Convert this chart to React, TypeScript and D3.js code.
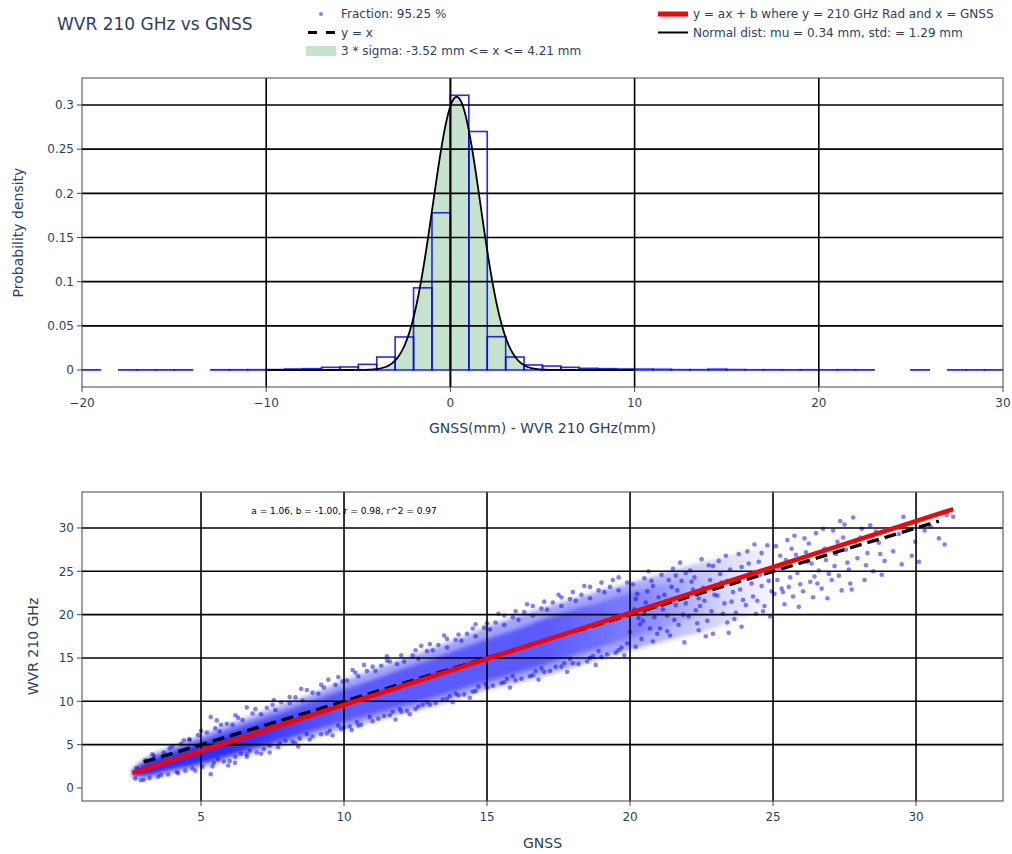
import React from "react";
import * as d3 from "d3";

// ---------- histogram of GNSS - WVR differences (1 mm bins) ----------
const histBinLeft = [
  -20, -19, -18, -17, -16, -15, -14, -13, -12, -11, -10, -9, -8, -7, -6, -5, -4, -3, -2, -1,
  0, 1, 2, 3, 4, 5, 6, 7, 8, 9, 10, 11, 12, 13, 14, 15, 16, 17, 18, 19,
  20, 21, 22, 23, 24, 25, 26, 27, 28, 29,
];
const histDensity = [
  0.0002, 0, 0.0002, 0.0002, 0.0002, 0.0002, 0, 0.0003, 0.0003, 0.0004, 0.0005, 0.0011, 0.0015, 0.003, 0.0034, 0.0064, 0.0147, 0.0374, 0.093, 0.178,
  0.311, 0.27, 0.0377, 0.0147, 0.0057, 0.0045, 0.003, 0.0019, 0.0015, 0.0011, 0.001, 0.0008, 0.0004, 0.0004, 0.0009, 0.0005, 0.0003, 0.0003, 0.0002, 0.0003,
  0.0002, 0.0003, 0.0002, 0, 0, 0.0002, 0, 0.0002, 0.0002, 0.0002,
];
const normalMu = 0.34;
const normalStd = 1.29;
const normalSpan = [-10, 10];
const sigmaLow = -3.52;
const sigmaHigh = 4.21;

// ---------- regression of WVR 210 GHz on GNSS ----------
const fitA = 1.06;
const fitB = -1.0;
const fitR = 0.98;
const fitR2 = 0.97;
const fractionPct = 95.25;
const fitSpan = [2.6, 31.3];
const identitySpan = [3.0, 30.8];

// density of the point cloud: outer envelope, core and innermost core
const bandGnss = [2.6, 3, 4, 5, 6, 7, 8, 9, 10, 11, 12, 13, 14, 15, 16, 17, 18, 19, 20, 21, 22, 23, 24, 25];
const envLow = [1.2, 1.1, 1.8, 2.4, 3.3, 4.2, 5.1, 6.0, 6.8, 7.7, 8.6, 9.4, 10.4, 11.4, 12.2, 13.0, 14.0, 15.0, 15.9, 16.8, 17.6, 18.5, 19.8, 21.2];
const envHigh = [2.2, 3.3, 4.8, 6.1, 7.4, 8.6, 9.8, 11.0, 12.4, 13.6, 14.8, 16.0, 17.2, 18.6, 19.8, 20.8, 21.8, 22.8, 23.6, 24.6, 25.6, 26.4, 27.3, 28.1];
const coreLow = [1.3, 1.4, 2.2, 2.9, 3.8, 4.8, 5.7, 6.7, 7.6, 8.5, 9.4, 10.3, 11.3, 12.3, 13.2, 14.2, 15.3, 16.3, 17.3, 18.3, 19.3, 20.3, 21.5, 22.5];
const coreHigh = [2.1, 3.0, 4.4, 5.6, 6.8, 7.9, 9.0, 10.2, 11.4, 12.5, 13.7, 14.8, 16.0, 17.2, 18.3, 19.5, 20.6, 21.5, 22.5, 23.4, 24.2, 25.0, 25.8, 26.5];
const innerGnss = [2.6, 3, 4, 5, 6, 7, 8, 9, 10];
const innerLow = [1.3, 1.4, 2.1, 2.8, 3.7, 4.7, 5.6, 6.6, 7.6];
const innerHigh = [2.0, 2.8, 3.9, 5.0, 6.1, 7.2, 8.3, 9.3, 10.4];

// individual samples around the edges of the cloud
const edgePoints: [number, number][] = [
  [2.7, 1.1], [2.75, 2.3], [2.9, 0.9], [3.05, 3.2], [3.2, 1.15], [3.35, 3.7], [3.5, 1.3], [3.7, 4.1], [3.85, 1.55], [4.0, 4.8],
  [4.15, 1.85], [4.3, 5.1], [4.45, 2.0], [4.6, 5.6], [4.7, 2.25], [4.9, 6.1], [5.05, 2.45], [5.34, 8.2], [5.34, 1.6], [5.2, 6.4],
  [5.5, 6.9], [5.65, 6.55], [5.9, 7.4], [5.45, 2.9], [5.6, 3.3], [5.8, 3.05], [5.55, 7.8], [5.95, 2.6], [4.59, 5.6],
  [6.1, 7.3], [6.3, 8.1], [6.45, 7.85], [6.8, 8.6], [6.2, 3.6], [6.4, 3.95], [6.6, 3.6], [6.19, 2.9], [6.7, 4.3], [6.95, 4.1], [6.6, 9.3],
  [7.1, 8.5], [7.3, 9.25], [7.6, 9.0], [7.8, 9.9], [7.2, 4.5], [7.4, 4.9], [7.76, 5.2], [7.95, 5.45], [7.55, 10.15], [7.4, 4.1],
  [8.1, 9.8], [8.3, 10.45], [8.55, 10.1], [8.9, 11.0], [8.2, 5.35], [8.45, 5.7], [8.7, 6.2], [8.9, 5.95], [8.5, 11.45], [8.4, 4.8],
  [9.1, 10.9], [9.3, 11.6], [9.45, 12.5], [9.7, 11.9], [9.95, 12.3], [9.2, 6.2], [9.5, 6.6], [9.8, 7.2], [9.6, 6.05], [9.9, 6.8],
  [10.1, 12.4], [10.3, 13.6], [10.5, 12.9], [10.8, 13.5], [10.27, 6.7], [10.45, 7.6], [10.6, 7.3], [10.9, 8.2], [10.7, 14.2], [10.2, 7.1],
  [11.1, 13.5], [11.3, 14.1], [11.6, 14.6], [11.85, 14.3], [11.2, 8.0], [11.4, 8.3], [11.7, 8.8], [11.95, 9.1], [11.5, 15.2], [11.8, 7.9],
  [12.1, 14.6], [12.4, 15.3], [12.6, 14.9], [12.9, 15.8], [12.2, 8.9], [12.5, 9.1], [12.75, 9.6], [12.9, 9.9], [12.7, 16.4], [12.3, 8.5],
  [13.1, 15.9], [13.3, 16.5], [13.6, 16.2], [13.9, 17.1], [13.2, 9.8], [13.45, 10.2], [13.7, 10.6], [13.9, 10.9], [13.5, 17.6], [13.8, 9.9],
  [14.1, 17.0], [14.3, 17.8], [14.6, 17.5], [14.9, 18.5], [14.2, 10.8], [14.5, 11.1], [14.7, 11.7], [14.95, 12.0], [14.6, 18.9], [14.4, 10.4],
  [15.1, 18.3], [15.3, 19.1], [15.6, 18.8], [15.9, 19.7], [15.2, 11.8], [15.5, 12.1], [15.7, 12.6], [15.9, 12.9], [15.4, 20.1], [15.8, 11.6],
  [16.1, 19.4], [16.3, 20.3], [16.6, 19.9], [16.9, 20.7], [16.2, 12.6], [16.5, 12.9], [16.7, 13.5], [16.9, 13.8], [16.4, 21.2], [16.8, 12.5],
  [17.1, 20.6], [17.3, 21.4], [17.6, 21.0], [17.9, 21.8], [17.2, 13.5], [17.4, 14.0], [17.7, 14.4], [17.9, 14.9], [17.5, 22.3], [17.8, 13.4],
  [18.1, 21.6], [18.3, 22.3], [18.6, 21.9], [18.9, 22.8], [18.2, 14.3], [18.5, 14.6], [18.7, 15.2], [18.9, 15.8], [18.4, 23.3], [18.8, 14.2],
  [19.1, 22.6], [19.3, 23.2], [19.6, 22.8], [19.9, 23.7], [19.2, 15.4], [19.5, 15.6], [19.7, 16.2], [19.9, 16.7], [19.4, 24.0], [19.8, 15.3],
  // outer ring
  [3.3, 3.9], [3.9, 4.6], [4.4, 5.5], [5.0, 6.6], [5.7, 7.3], [6.2, 8.4], [6.9, 9.1], [7.5, 9.6], [8.1, 10.5], [8.7, 11.3], [9.2, 11.9], [9.8, 12.8],
  [3.0, 0.95], [3.6, 1.5], [4.2, 1.7], [4.8, 2.0], [5.4, 2.5], [6.0, 3.1], [6.6, 3.9], [7.1, 3.95], [7.7, 4.7], [8.3, 5.2], [8.8, 5.6], [9.4, 6.3], [10.0, 7.0],
  [10.4, 13.3], [11.0, 14.0], [11.5, 14.7], [12.0, 15.3], [12.5, 15.9], [13.0, 16.6], [13.6, 17.2], [14.0, 17.7], [14.5, 18.4], [15.0, 19.0],
  [15.6, 19.9], [16.0, 20.4], [16.6, 21.0], [17.0, 21.5], [17.6, 22.0], [18.0, 22.6], [18.6, 23.2], [19.0, 23.7], [19.6, 24.3],
  [10.5, 7.2], [11.0, 7.7], [11.6, 8.4], [12.0, 8.8], [12.6, 9.4], [13.0, 9.6], [13.6, 10.3], [14.0, 10.7], [14.6, 11.2], [15.0, 11.6],
  [15.6, 12.2], [16.0, 12.4], [16.6, 13.0], [17.0, 13.4], [17.6, 14.0], [18.0, 14.4], [18.6, 15.0], [19.0, 15.1], [19.6, 15.9],
];

// sparse samples at high water vapour
const sparsePoints: [number, number][] = [
  [20.1, 23.5], [20.2, 21.8], [20.3, 19.6], [20.4, 17.2], [20.5, 24.2], [20.6, 22.7], [20.7, 18.4], [20.8, 16.9], [20.9, 20.9], [20.2, 16.3],
  [20.5, 20.1], [20.8, 23.3], [20.35, 18.9], [20.65, 25.0], [20.95, 17.8],
  [21.1, 24.6], [21.2, 22.3], [21.3, 19.9], [21.4, 17.6], [21.5, 25.3], [21.6, 21.1], [21.7, 18.8], [21.8, 23.9], [21.9, 16.8], [21.15, 20.6],
  [21.45, 23.2], [21.75, 26.0], [21.85, 20.0], [21.3, 18.1], [21.6, 24.5],
  [22.1, 25.1], [22.2, 22.9], [22.3, 20.5], [22.4, 18.2], [22.5, 26.4], [22.6, 21.6], [22.7, 19.3], [22.8, 24.0], [22.9, 17.8], [22.15, 23.8],
  [22.45, 21.0], [22.75, 25.7], [22.95, 22.3], [22.35, 19.0], [22.65, 17.5],
  [23.1, 26.2], [23.2, 23.7], [23.3, 21.3], [23.4, 19.1], [23.5, 25.2], [23.6, 22.6], [23.7, 20.2], [23.8, 27.0], [23.9, 18.6], [23.15, 24.7],
  [23.45, 17.9], [23.75, 24.1], [23.95, 21.7], [23.35, 26.8], [23.65, 19.5],
  [24.1, 27.3], [24.2, 24.8], [24.3, 22.1], [24.4, 20.1], [24.5, 26.1], [24.6, 23.3], [24.7, 21.0], [24.8, 28.0], [24.9, 19.8], [24.15, 25.9],
  [24.45, 21.6], [24.75, 25.2], [24.95, 22.7], [24.35, 28.1], [24.65, 20.4],
  [25.1, 27.9], [25.2, 25.4], [25.3, 23.0], [25.4, 21.2], [25.5, 28.6], [25.6, 24.3], [25.7, 22.1], [25.8, 26.9], [25.9, 20.9], [25.15, 24.0],
  [25.45, 26.3], [25.75, 29.1], [25.95, 23.5], [25.35, 22.6],
  [26.1, 28.8], [26.2, 26.1], [26.3, 23.8], [26.4, 22.0], [26.5, 29.4], [26.6, 25.1], [26.7, 23.0], [26.8, 27.6], [26.9, 21.9], [26.15, 27.2],
  [26.45, 24.4], [26.75, 29.9], [26.95, 24.7],
  [27.1, 29.7], [27.2, 27.0], [27.3, 24.5], [27.4, 22.8], [27.5, 30.4], [27.6, 26.0], [27.7, 23.6], [27.8, 31.2], [27.9, 28.4], [27.15, 25.6],
  [27.45, 28.9], [27.75, 22.9], [27.35, 30.8],
  [28.1, 29.9], [28.3, 27.1], [28.5, 25.0], [28.7, 28.3], [28.9, 26.2], [28.2, 24.0], [28.6, 29.6], [28.4, 30.3], [28.8, 24.6],
  [29.2, 27.3], [29.5, 25.8], [29.85, 26.8], [29.97, 28.4], [30.1, 26.1], [29.4, 29.3], [29.56, 31.3], [30.3, 29.7], [30.8, 28.8], [31.0, 28.1],
  [31.07, 31.5], [31.3, 31.3], [30.5, 30.2],
  // interior of the sparse region
  [20.0, 18.0], [20.15, 20.6], [20.25, 22.4], [20.45, 19.3], [20.55, 21.4], [20.75, 23.9], [20.85, 19.7], [21.0, 22.0], [21.05, 18.4], [21.25, 21.5],
  [21.35, 24.0], [21.55, 19.4], [21.65, 22.8], [21.95, 21.3], [21.95, 24.8], [22.05, 19.8], [22.25, 24.3], [22.4, 21.9], [22.55, 23.1], [22.85, 20.4],
  [22.9, 25.6], [23.05, 22.2], [23.25, 20.1], [23.4, 23.9], [23.55, 21.5], [23.85, 22.9], [23.9, 25.5], [24.05, 21.1], [24.25, 23.6], [24.55, 24.6],
  [24.6, 27.1], [24.85, 23.9], [25.05, 22.4], [25.25, 26.8], [25.55, 23.2], [25.65, 27.6], [25.85, 24.8], [26.05, 22.7], [26.25, 28.2], [26.35, 25.9],
  [26.55, 23.6], [26.85, 26.3], [27.05, 24.0], [27.25, 28.4], [27.55, 27.5], [27.65, 25.2], [27.95, 26.5], [28.05, 28.9], [28.25, 25.7], [28.45, 29.0],
  [28.75, 27.0],
];

// ---------- axis ticks ----------
const histXTicks = [-20, -10, 0, 10, 20, 30];
const histYTicks = [0, 0.05, 0.1, 0.15, 0.2, 0.25, 0.3];
const scatXTicks = [5, 10, 15, 20, 25, 30];
const scatYTicks = [0, 5, 10, 15, 20, 25, 30];

const FONT = "'DejaVu Sans', Verdana, sans-serif";
const INK = "#2a3f5f";
const BLUE = "rgb(0,0,255)";
const MINT = "#c6e4cd";

function pdf(x: number) {
  const z = (x - normalMu) / normalStd;
  return Math.exp(-0.5 * z * z) / (normalStd * Math.sqrt(2 * Math.PI));
}

const fmtTick = (v: number) => (v < 0 ? "\u2212" + Math.abs(v) : String(v));

export default function App() {
  const left = 82;
  const right = 1003;
  const top1 = 78;
  const bottom1 = 387;
  const top2 = 492;
  const bottom2 = 801;

  const hx = d3.scaleLinear().domain([-20, 30]).range([left, right]);
  const hy = d3.scaleLinear().domain([-0.01925, 0.33057]).range([bottom1, top1]);
  const sx = d3.scaleLinear().domain([0.839, 33.04]).range([left, right]);
  const sy = d3.scaleLinear().domain([-1.5, 34.15]).range([bottom2, top2]);

  // normal curve and shaded 3-sigma area
  const curveXs = d3.range(normalSpan[0], normalSpan[1] + 1e-9, 0.05);
  const curvePath = d3
    .line<number>()
    .x((x) => hx(x))
    .y((x) => hy(pdf(x)))(curveXs) as string;
  const sigmaXs = [sigmaLow, ...d3.range(Math.ceil(sigmaLow * 20) / 20, sigmaHigh, 0.05), sigmaHigh];
  const sigmaPath = d3
    .area<number>()
    .x((x) => hx(x))
    .y0(hy(0))
    .y1((x) => hy(pdf(x)))(sigmaXs) as string;

  // cloud density bands
  const bandArea = (lo: number[], hi: number[], xs: number[]) =>
    d3
      .area<number>()
      .x((i) => sx(xs[i]))
      .y0((i) => sy(lo[i]))
      .y1((i) => sy(hi[i]))
      .curve(d3.curveMonotoneX)(xs.map((_, i) => i)) as string;
  const envPath = bandArea(envLow, envHigh, bandGnss);
  const corePath = bandArea(coreLow, coreHigh, bandGnss);
  const innerPath = bandArea(innerLow, innerHigh, innerGnss);

  const annotation = `a = ${fitA.toFixed(2)}, b = ${fitB.toFixed(2)}, r = ${fitR.toFixed(2)}, r^2 = ${fitR2.toFixed(2)}`;

  const gridW = 1.6;

  const yTickLabels = (ticks: number[], scale: d3.ScaleLinear<number, number>) =>
    ticks.map((t) => (
      <g key={"yt" + t}>
        <line x1={left - 5} x2={left} y1={scale(t)} y2={scale(t)} stroke="#444" strokeWidth={1} />
        <text x={left - 8} y={scale(t)} dy="0.35em" textAnchor="end" fontSize={12} fill={INK}>
          {String(t)}
        </text>
      </g>
    ));

  const xTickLabels = (ticks: number[], scale: d3.ScaleLinear<number, number>, bottom: number) =>
    ticks.map((t) => (
      <g key={"xt" + t}>
        <line x1={scale(t)} x2={scale(t)} y1={bottom} y2={bottom + 5} stroke="#444" strokeWidth={1} />
        <text x={scale(t)} y={bottom + 16} dy="0.35em" textAnchor="middle" fontSize={12} fill={INK}>
          {fmtTick(t)}
        </text>
      </g>
    ));

  const legendRow = [14, 32.5, 51];
  const legCol1 = 301;
  const legCol2 = 653;

  return (
    <svg
      width={1012}
      height={854}
      style={{ position: "absolute", left: 0, top: 0, background: "#fff" }}
      fontFamily={FONT}
    >
      <defs>
        <clipPath id="clipTop">
          <rect x={left} y={top1} width={right - left} height={bottom1 - top1} />
        </clipPath>
        <clipPath id="clipBottom">
          <rect x={left} y={top2} width={right - left} height={bottom2 - top2} />
        </clipPath>
        <linearGradient id="fadeEnv" gradientUnits="userSpaceOnUse" x1={sx(20)} x2={sx(25.5)} y1={0} y2={0}>
          <stop offset="0" stopColor={BLUE} stopOpacity={0.36} />
          <stop offset="1" stopColor={BLUE} stopOpacity={0.0} />
        </linearGradient>
        <linearGradient id="fadeCore" gradientUnits="userSpaceOnUse" x1={sx(17)} x2={sx(23.5)} y1={0} y2={0}>
          <stop offset="0" stopColor={BLUE} stopOpacity={0.45} />
          <stop offset="1" stopColor={BLUE} stopOpacity={0.0} />
        </linearGradient>
        <linearGradient id="fadeInner" gradientUnits="userSpaceOnUse" x1={sx(6)} x2={sx(10)} y1={0} y2={0}>
          <stop offset="0" stopColor={BLUE} stopOpacity={0.5} />
          <stop offset="1" stopColor={BLUE} stopOpacity={0.0} />
        </linearGradient>
        {/* soft edges for the point-density bands */}
        <filter id="soften" x="-5%" y="-5%" width="110%" height="110%">
          <feGaussianBlur stdDeviation="2.2" />
        </filter>
      </defs>

      <rect x={0} y={0} width={1012} height={854} fill="#fff" />

      {/* title */}
      <text x={57} y={24} dy="0.35em" fontSize={17} fill={INK}>
        WVR 210 GHz vs GNSS
      </text>

      {/* legend */}
      <g fontSize={12} fill={INK}>
        <circle cx={legCol1 + 20} cy={legendRow[0]} r={2} fill={BLUE} fillOpacity={0.5} />
        <text x={legCol1 + 40} y={legendRow[0]} dy="0.35em">{`Fraction: ${fractionPct.toFixed(2)} %`}</text>
        <line x1={legCol1 + 7} x2={legCol1 + 37} y1={legendRow[1]} y2={legendRow[1]} stroke="#000" strokeWidth={3} strokeDasharray="9,9" />
        <text x={legCol1 + 40} y={legendRow[1]} dy="0.35em">y = x</text>
        <rect x={legCol1 + 5} y={legendRow[2] - 5} width={30} height={10} fill={MINT} />
        <text x={legCol1 + 40} y={legendRow[2]} dy="0.35em">{`3 * sigma: ${sigmaLow.toFixed(2)} mm <= x <= ${sigmaHigh.toFixed(2)} mm`}</text>

        <line x1={legCol2 + 5} x2={legCol2 + 35} y1={legendRow[0]} y2={legendRow[0]} stroke="red" strokeWidth={5} />
        <text x={legCol2 + 40} y={legendRow[0]} dy="0.35em">y = ax + b where y = 210 GHz Rad and x = GNSS</text>
        <line x1={legCol2 + 5} x2={legCol2 + 35} y1={legendRow[1]} y2={legendRow[1]} stroke="#000" strokeWidth={2} />
        <text x={legCol2 + 40} y={legendRow[1]} dy="0.35em">{`Normal dist: mu = ${normalMu.toFixed(2)} mm, std: = ${normalStd.toFixed(2)} mm`}</text>
      </g>

      {/* ===== histogram panel ===== */}
      <g clipPath="url(#clipTop)">
        <path d={sigmaPath} fill={MINT} />
        {histBinLeft.map((b, i) =>
          histDensity[i] > 0 ? (
            <rect
              key={"bin" + b}
              x={hx(b)}
              y={hy(histDensity[i])}
              width={hx(b + 1) - hx(b)}
              height={hy(0) - hy(histDensity[i])}
              fill="none"
              stroke={BLUE}
              strokeOpacity={0.85}
              strokeWidth={1.6}
            />
          ) : null
        )}
        <path d={curvePath} fill="none" stroke="#000" strokeWidth={1.8} />
        {histXTicks
          .filter((t) => t > -20 && t < 30)
          .map((t) => (
            <line key={"hgx" + t} x1={hx(t)} x2={hx(t)} y1={top1} y2={bottom1} stroke="#000" strokeWidth={t === 0 ? 2 : gridW} />
          ))}
        {histYTicks
          .filter((t) => t > 0)
          .map((t) => (
            <line key={"hgy" + t} x1={left} x2={right} y1={hy(t)} y2={hy(t)} stroke="#000" strokeWidth={gridW} />
          ))}
      </g>
      <rect x={left} y={top1} width={right - left} height={bottom1 - top1} fill="none" stroke="#444" strokeWidth={1} />
      {yTickLabels(histYTicks, hy)}
      {xTickLabels(histXTicks, hx, bottom1)}
      <text x={(left + right) / 2} y={428} dy="0.35em" textAnchor="middle" fontSize={14} fill={INK}>
        GNSS(mm) - WVR 210 GHz(mm)
      </text>
      <text
        transform={`translate(18,${(top1 + bottom1) / 2}) rotate(-90)`}
        dy="0.35em"
        textAnchor="middle"
        fontSize={14}
        fill={INK}
      >
        Probability density
      </text>

      {/* ===== scatter panel ===== */}
      <g clipPath="url(#clipBottom)">
        <g filter="url(#soften)">
          <path d={envPath} fill="url(#fadeEnv)" />
          <path d={corePath} fill="url(#fadeCore)" />
          <path d={innerPath} fill="url(#fadeInner)" />
        </g>
        {edgePoints.concat(sparsePoints).map(([g, w], i) => (
          <circle key={"p" + i} cx={sx(g)} cy={sy(w)} r={2.3} fill={BLUE} fillOpacity={0.5} />
        ))}
        {scatXTicks.map((t) => (
          <line key={"sgx" + t} x1={sx(t)} x2={sx(t)} y1={top2} y2={bottom2} stroke="#000" strokeWidth={gridW} />
        ))}
        {scatYTicks
          .filter((t) => t > 0)
          .map((t) => (
            <line key={"sgy" + t} x1={left} x2={right} y1={sy(t)} y2={sy(t)} stroke="#000" strokeWidth={gridW} />
          ))}
        <line
          x1={sx(identitySpan[0])}
          y1={sy(identitySpan[0])}
          x2={sx(identitySpan[1])}
          y2={sy(identitySpan[1])}
          stroke="#000"
          strokeWidth={3.4}
          strokeDasharray="12,6"
        />
        <line
          x1={sx(fitSpan[0])}
          y1={sy(fitA * fitSpan[0] + fitB)}
          x2={sx(fitSpan[1])}
          y2={sy(fitA * fitSpan[1] + fitB)}
          stroke="red"
          strokeWidth={4.5}
        />
      </g>
      <rect x={left} y={top2} width={right - left} height={bottom2 - top2} fill="none" stroke="#444" strokeWidth={1} />
      <text x={sx(10)} y={sy(32)} dy="0.35em" textAnchor="middle" fontSize={9} fill="#000">
        {annotation}
      </text>
      {yTickLabels(scatYTicks, sy)}
      {xTickLabels(scatXTicks, sx, bottom2)}
      <text x={(left + right) / 2} y={843} dy="0.35em" textAnchor="middle" fontSize={14} fill={INK}>
        GNSS
      </text>
      <text
        transform={`translate(33,${(top2 + bottom2) / 2}) rotate(-90)`}
        dy="0.35em"
        textAnchor="middle"
        fontSize={14}
        fill={INK}
      >
        WVR 210 GHz
      </text>
    </svg>
  );
}
